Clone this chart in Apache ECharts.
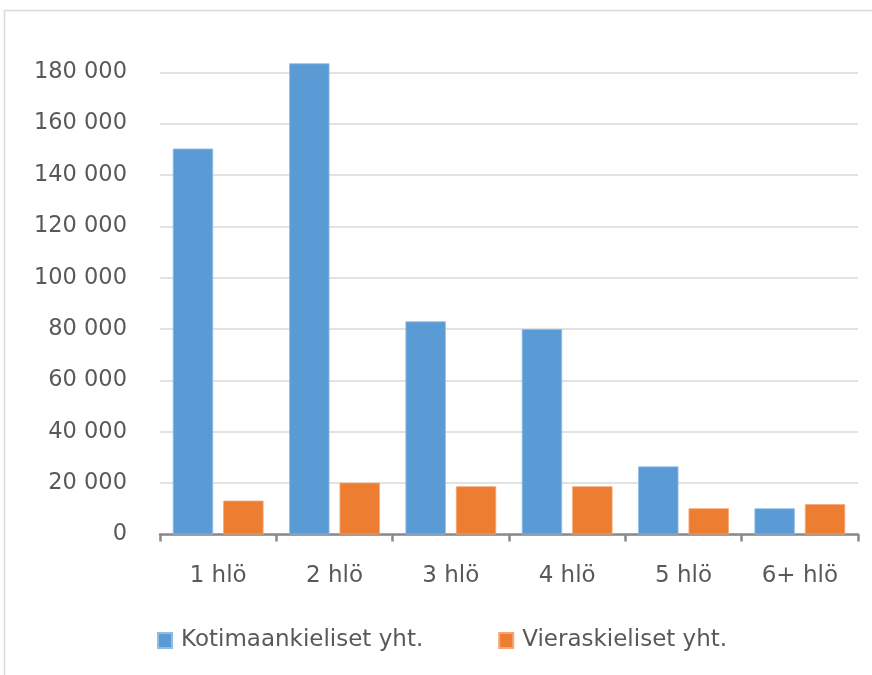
<!DOCTYPE html>
<html>
<head>
<meta charset="utf-8">
<script src="https://cdn.jsdelivr.net/npm/echarts@6/dist/echarts.min.js"></script>
<style>
html,body{margin:0;padding:0;background:#fff;overflow:hidden;}
#c{width:872px;height:675px;}
</style>
</head>
<body>
<div id="c"></div>
<script>
var categories = ['1 hlö', '2 hlö', '3 hlö', '4 hlö', '5 hlö', '6+ hlö'];
var kotimaankieliset = [150300, 183500, 83000, 80000, 26500, 10200];
var vieraskieliset = [13200, 20200, 18800, 18800, 10200, 11800];
var seriesNames = ['Kotimaankieliset yht.', 'Vieraskieliset yht.'];
var yTicks = { min: 0, max: 180000, interval: 20000 };

var FONT = 'DejaVu Sans';
var TXT = '#595959';

function fmt(v) {
  return String(v).replace(/\B(?=(\d{3})+(?!\d))/g, ' ');
}

var chart = echarts.init(document.getElementById('c'), null, { renderer: 'canvas' });
chart.setOption({
  backgroundColor: '#ffffff',
  animation: false,
  graphic: [{
    type: 'polyline',
    shape: { points: [[4.5, 700], [4.5, 10.5], [900, 10.5]] },
    style: { fill: 'none', stroke: '#d9d9d9', lineWidth: 1.5 },
    silent: true
  }],
  grid: { left: 160, right: 14, top: 72.3, bottom: 140.5, containLabel: false },
  legend: {
    data: seriesNames,
    left: 152,
    top: 624,
    itemWidth: 14,
    itemHeight: 15,
    itemGap: 75,
    icon: 'rect',
    textStyle: { fontFamily: FONT, fontSize: 23, color: TXT, padding: [0, 0, 0, 4] }
  },
  xAxis: {
    type: 'category',
    data: categories,
    axisLine: { lineStyle: { color: '#898989', width: 2.5 } },
    axisTick: { show: true, length: 7, lineStyle: { color: '#898989', width: 2.5 } },
    axisLabel: { fontFamily: FONT, fontSize: 23, color: TXT, margin: 30 }
  },
  yAxis: {
    type: 'value',
    min: yTicks.min,
    max: yTicks.max,
    interval: yTicks.interval,
    axisLine: { show: false },
    axisTick: { show: false },
    splitLine: { lineStyle: { color: '#d9d9d9', width: 1.5 } },
    axisLabel: { fontFamily: FONT, fontSize: 22.5, color: TXT, margin: 33, formatter: fmt }
  },
  series: [{
    name: seriesNames[0],
    type: 'bar',
    data: kotimaankieliset,
    clip: false,
    barGap: '25%',
    barCategoryGap: '22%',
    itemStyle: { color: '#5B9BD5', borderColor: '#8fbde6', borderWidth: 0.8 }
  }, {
    name: seriesNames[1],
    type: 'bar',
    data: vieraskieliset,
    clip: false,
    barGap: '25%',
    barCategoryGap: '22%',
    itemStyle: { color: '#ED7D31', borderColor: '#f4a877', borderWidth: 0.8 }
  }]
});
</script>
</body>
</html>
